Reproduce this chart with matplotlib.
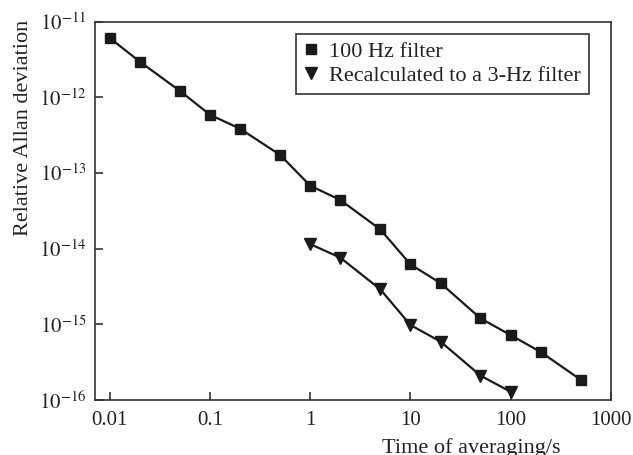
import matplotlib
matplotlib.use("Agg")
import matplotlib.pyplot as plt
from matplotlib.lines import Line2D
from matplotlib.ticker import FixedLocator, FixedFormatter, NullLocator

plt.rcParams['font.family'] = ['Liberation Serif', 'DejaVu Serif']
plt.rcParams['mathtext.fontset'] = 'stix'

# data
tau_100 = [0.01, 0.02, 0.05, 0.1, 0.2, 0.5, 1, 2, 5, 10, 20, 50, 100, 200, 500]
dev_100 = [6.1e-12, 2.96e-12, 1.22e-12, 5.9e-13, 3.85e-13, 1.74e-13, 6.8e-14,
           4.4e-14, 1.8e-14, 6.2e-15, 3.5e-15, 1.2e-15, 7.2e-16, 4.3e-16, 1.85e-16]
tau_3 = [1, 2, 5, 10, 20, 50, 100]
dev_3 = [1.15e-14, 7.6e-15, 2.9e-15, 9.8e-16, 5.9e-16, 2.1e-16, 1.28e-16]

xticks = [0.01, 0.1, 1, 10, 100, 1000]
xticklabels = ['0.01', '0.1', '1', '10', '100', '1000']
yticks = [1e-16, 1e-15, 1e-14, 1e-13, 1e-12, 1e-11]
yticklabels = [r'$10^{-16}$', r'$10^{-15}$', r'$10^{-14}$', r'$10^{-13}$', r'$10^{-12}$', r'$10^{-11}$']

label_100 = '100 Hz filter'
label_3 = 'Recalculated to a 3-Hz filter'

fig = plt.figure(figsize=(6.33, 4.55), dpi=100)
ax = fig.add_axes([0.150, 0.121, 0.815, 0.831])

c = '#1a1a1a'
ax.plot(tau_100, dev_100, color=c, lw=1.6, marker='s', ms=7, mfc=c, mec=c, clip_on=False, zorder=3)
ax.plot(tau_3, dev_3, color=c, lw=1.6, marker='v', ms=8, mfc=c, mec=c, clip_on=False, zorder=3)

ax.set_xscale('log')
ax.set_yscale('log')
ax.set_xlim(0.0071, 1000)
ax.set_ylim(1e-16, 1e-11)

ax.xaxis.set_major_locator(FixedLocator(xticks))
ax.xaxis.set_major_formatter(FixedFormatter(xticklabels))
ax.xaxis.set_minor_locator(NullLocator())
ax.yaxis.set_major_locator(FixedLocator(yticks))
ax.yaxis.set_major_formatter(FixedFormatter(yticklabels))
ax.yaxis.set_minor_locator(NullLocator())

ax.tick_params(axis='both', direction='in', length=6, width=1.2, colors='#333333',
               labelcolor='#222222', labelsize=15, pad=6)
ax.tick_params(axis='x', pad=8)
for s in ax.spines.values():
    s.set_color('#333333')
    s.set_linewidth(1.2)

ax.set_xlabel('Time of averaging/s', fontsize=16, color='#222222')
ax.xaxis.set_label_coords(0.73, -0.10)
ax.set_ylabel('Relative Allan deviation', fontsize=16, color='#222222')
ax.yaxis.set_label_coords(-0.12, 0.72)

handles = [Line2D([], [], ls='none', marker='s', ms=7, color=c),
           Line2D([], [], ls='none', marker='v', ms=8, color=c)]
leg = ax.legend(handles, [label_100, label_3], loc='upper right',
                bbox_to_anchor=(0.957, 0.968), borderaxespad=0, fontsize=16,
                fancybox=False, frameon=True, handlelength=0.7, handletextpad=0.45,
                labelspacing=0.15, borderpad=0.35)
leg.get_frame().set_edgecolor('#333333')
leg.get_frame().set_linewidth(1.2)
leg.get_frame().set_alpha(1)
for t in leg.get_texts():
    t.set_color('#222222')

fig.savefig('out.png', dpi=100)
